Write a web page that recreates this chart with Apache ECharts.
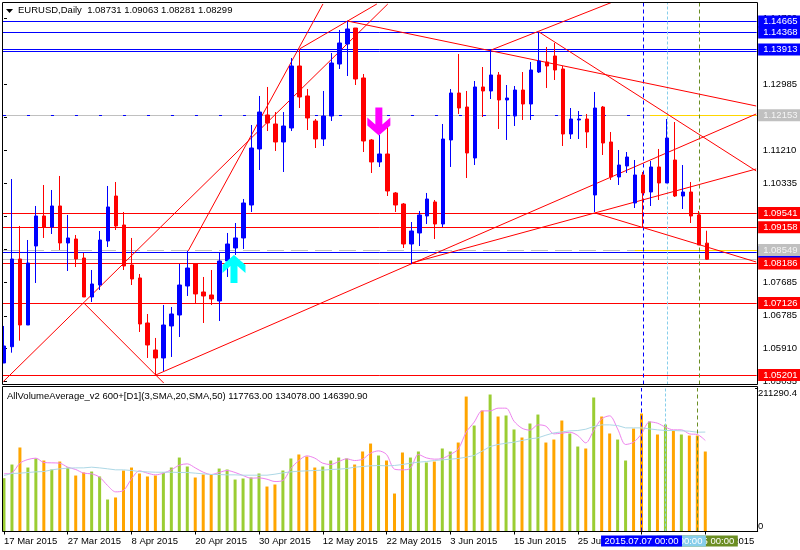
<!DOCTYPE html>
<html><head><meta charset="utf-8"><title>EURUSD Daily</title>
<style>html,body{margin:0;padding:0;background:#fff}#c{width:800px;height:550px}</style>
<script src="https://cdn.jsdelivr.net/npm/echarts@6/dist/echarts.min.js"></script>
</head><body><div id="c"></div>
<script>
const opens=[1.05522,1.05958,1.08306,1.06539,1.08654,1.09458,1.09163,1.09726,1.08735,1.08842,1.08333,1.07289,1.07610,1.08788,1.09993,1.09217,1.08146,1.07798,1.06593,1.05870,1.05656,1.06513,1.06807,1.07583,1.08173,1.07423,1.07343,1.07182,1.08253,1.08601,1.08869,1.09752,1.11252,1.12162,1.11921,1.11439,1.11814,1.13474,1.12671,1.12001,1.11519,1.12135,1.13527,1.14063,1.14491,1.13153,1.11493,1.10904,1.11118,1.10074,1.09779,1.08708,1.09003,1.09458,1.09833,1.09243,1.11493,1.12751,1.12376,1.11011,1.12912,1.12805,1.13233,1.12564,1.12135,1.12831,1.12456,1.13313,1.13581,1.13742,1.13394,1.11653,1.12028,1.12055,1.10020,1.12376,1.11439,1.10502,1.10796,1.09806,1.10556,1.10100,1.10770,1.10341,1.10957,1.09993,1.10100,1.09485,1.08731];
const closes=[1.05977,1.08306,1.06539,1.08199,1.09458,1.09163,1.09726,1.08735,1.08869,1.08306,1.07289,1.07637,1.08815,1.09699,1.09190,1.08119,1.07771,1.06566,1.06004,1.05656,1.06539,1.06834,1.07610,1.08065,1.07370,1.07316,1.07236,1.08253,1.08708,1.08869,1.09806,1.11278,1.12242,1.11948,1.11439,1.11867,1.13474,1.12644,1.12082,1.11519,1.12135,1.13554,1.14090,1.14465,1.13126,1.11466,1.10904,1.11118,1.10127,1.09752,1.08708,1.09056,1.09485,1.09913,1.09243,1.11519,1.12751,1.12349,1.11144,1.12912,1.12805,1.13233,1.12564,1.12617,1.12831,1.12456,1.13367,1.13608,1.13474,1.13367,1.11653,1.12055,1.12055,1.11707,1.12349,1.11412,1.10502,1.10823,1.11037,1.10556,1.10074,1.10770,1.10341,1.11546,1.09993,1.10100,1.09458,1.08681,1.08299];
const lows=[1.05522,1.05798,1.06119,1.06539,1.07664,1.08869,1.08976,1.08547,1.07985,1.08092,1.07289,1.07155,1.07476,1.08628,1.09083,1.08012,1.07610,1.06352,1.05656,1.05201,1.05308,1.05683,1.06218,1.07316,1.07128,1.06593,1.07075,1.06647,1.07825,1.08414,1.08574,1.09565,1.10689,1.11733,1.11198,1.10636,1.11733,1.12349,1.11760,1.11278,1.11332,1.12001,1.13394,1.13206,1.12965,1.11171,1.10609,1.10770,1.09993,1.09565,1.08601,1.08173,1.08654,1.09243,1.08842,1.09163,1.10770,1.12189,1.10475,1.10823,1.12108,1.12590,1.11787,1.11493,1.11867,1.12028,1.12028,1.13286,1.12885,1.13099,1.11332,1.11519,1.11519,1.11278,1.09565,1.11091,1.10422,1.10288,1.10609,1.09672,1.09136,1.09726,1.09886,1.10341,1.09966,1.09645,1.09270,1.08681,1.08281];
const highs=[1.06513,1.10448,1.09190,1.08815,1.09726,1.10288,1.10154,1.10529,1.09485,1.08949,1.08467,1.08012,1.09056,1.10261,1.10368,1.09565,1.08869,1.07905,1.06834,1.06192,1.07075,1.07021,1.08173,1.08521,1.08173,1.07825,1.08012,1.08494,1.09003,1.09270,1.09913,1.11894,1.12671,1.12912,1.12242,1.12242,1.13688,1.13929,1.12858,1.12055,1.12805,1.13822,1.14438,1.14679,1.14491,1.13260,1.11519,1.11626,1.11867,1.10100,1.09806,1.09297,1.09592,1.10074,1.09886,1.11921,1.12858,1.13795,1.12805,1.13072,1.13447,1.13902,1.13313,1.12965,1.12938,1.13313,1.13581,1.14384,1.13983,1.14090,1.13474,1.12349,1.12269,1.12189,1.12778,1.12403,1.11707,1.11225,1.11171,1.10957,1.10636,1.10930,1.11252,1.12055,1.11974,1.10823,1.10368,1.09592,1.09063];
const volumes=[78500,98600,123700,94200,107500,104500,91300,103000,94200,82400,86900,88300,81000,47100,50100,89800,94200,85400,81000,82400,86900,94200,108900,95700,79500,83900,83900,92700,91300,76500,78000,79500,85400,66200,69200,89800,107500,113400,110400,94200,95700,104500,108900,107500,98600,117800,129500,111900,104500,55900,116300,108900,117800,101600,103000,122200,117800,131000,198700,156000,178100,201700,169300,170800,150200,138400,159000,172200,131000,135400,163400,144300,125100,122200,197300,169300,144300,135400,104500,151600,173700,161900,142800,157500,148700,142800,141300,141300,117763];
const volumeRising=[1,1,0,1,1,0,1,0,1,0,0,1,1,1,0,0,0,0,0,0,1,1,1,1,0,0,0,1,1,1,1,1,1,0,0,1,1,0,0,0,1,1,1,1,0,0,0,1,0,0,0,1,1,1,0,1,1,0,0,1,0,1,0,1,1,0,1,1,0,0,0,1,1,0,1,0,0,1,1,0,0,1,0,1,0,1,0,0,0];
const fastAverage=[84900,86400,100600,106000,108000,101600,101100,100600,94700,91300,85900,84900,80000,67700,58400,60400,77500,89300,85900,83400,85900,90800,97600,99600,93700,87300,83900,86900,89800,86900,82400,78500,79000,77000,73600,75100,92700,104500,111400,108000,100600,98600,103000,107000,104500,106500,115300,118700,113400,91800,90800,93200,113400,108400,106500,107500,113400,121200,146200,161000,177600,177600,181600,181600,162400,152100,149200,157000,155100,143800,144800,146200,141300,130500,148700,165900,170300,151100,128100,131500,143800,161400,159500,153600,149700,149700,143800,142800,134078];
const slowAverage=[82400,85400,85900,86900,87800,88300,90800,92300,93200,93700,93700,94700,93700,92300,90800,90800,89800,88300,87800,87300,87300,87300,86900,86900,85900,84900,83900,83900,83400,83400,82900,82900,82900,82900,84400,86400,87800,88800,89300,89800,90300,91300,91800,92700,94700,95700,96700,97200,96700,97200,98600,100600,102100,103000,104500,105500,106500,107500,109400,111900,118300,125100,128100,130000,131500,134000,136400,137900,141800,145200,146700,148200,148700,150600,154600,157000,157000,156000,152600,152600,152600,151100,149700,148700,148700,148200,147700,146200,146391];

const dateTickIndex=[0,8,16,24,32,40,48,56,64,72,80,88];
const dateTickLabels=['17 Mar 2015','27 Mar 2015','8 Apr 2015','20 Apr 2015','30 Apr 2015','12 May 2015','22 May 2015','3 Jun 2015','15 Jun 2015','25 Jun 2015','7 Jul 2015','17 Jul 2015'];
const priceTicks=[1.14760,1.13873,1.12985,1.12098,1.11210,1.10335,1.09460,1.08560,1.07685,1.06785,1.05910,1.05035];
const volumeMax=211290.4;

const blueLevels=[1.14665,1.14368,1.13913];
const blueUnlabelled=[1.13862];
const blueHiddenTag=[1.08486];
const redLevels=[1.09541,1.09158,1.08186,1.07126,1.05201];
const greyLevels=[1.12153,1.08549];
const bidLevel=[1.08299];
const trendLines=[
 [[-0.1,1.05021],[48.06,1.15134]],
 [[23.06,1.08521],[39.94,1.15134]],
 [[10,1.07128],[20,1.04986]],
 [[19,1.05201],[94.19,1.12189]],
 [[51,1.08199],[94.19,1.10716]],
 [[74,1.09538],[94.19,1.08226]],
 [[43,1.14679],[94.19,1.12403]],
 [[67,1.14384],[94.19,1.10663]],
 [[37,1.13929],[46.69,1.15134]],
 [[61,1.13902],[76.06,1.15174]]
];
const goldStarts=[80.9,79];
const upArrow=[[28.8,1.08039]];
const downArrow=[[46.94,1.11988]];
const verticals=[{i:87,t:'2015.07.15 00:00',c:'#6b8e23',d:[4,3]},{i:83,t:'2015.07.10 00:00',c:'#87ceeb',d:[3,2]},{i:80,t:'2015.07.07 00:00',c:'#0000ff',d:[4,3]}];

const F='"Liberation Sans",Arial,sans-serif', FS=9.5;
const XL=-0.125, XR=94.25;
const barCount=95;
const categories=Array.from({length:barCount},(_, i)=>{const k=dateTickIndex.indexOf(i);return k<0?String(i):dateTickLabels[k];});
const onDateTick=i=>dateTickIndex.indexOf(i)>=0;

const tag=(txt,bg,fg)=>({show:true,formatter:txt,position:'end',distance:1.5,color:fg||'#fff',backgroundColor:bg,
  padding:[1,40,1,5],fontSize:FS,fontFamily:F,lineHeight:10,align:'left'});
const seg=(v,c,type,label,from)=>[{coord:[from===undefined?XL:from,v],lineStyle:{color:c,width:1,type:type||'solid'},label:label||{show:false}},{coord:[XR,v]}];

const levelData=[
 seg(bidLevel[0],'#c0c0c0'),
 seg(blueHiddenTag[0],'#0000ff','solid',tag(blueHiddenTag[0].toFixed(5),'#0000ff')),
 seg(greyLevels[0],'#c0c0c0','solid',tag(greyLevels[0].toFixed(5),'#c0c0c0','#f4f4f4')),
 seg(greyLevels[0],'#0000ff',[3,21]),
 seg(greyLevels[1],'#c0c0c0',[17,7],tag(greyLevels[1].toFixed(5),'#c0c0c0','#f4f4f4')),
 seg(greyLevels[0],'#ffd700','solid',null,goldStarts[0]),
 seg(greyLevels[1],'#ffd700','solid',null,goldStarts[1]),
 seg(blueUnlabelled[0],'#0000ff')
].concat(blueLevels.map(v=>seg(v,'#0000ff','solid',tag(v.toFixed(5),'#0000ff'))))
 .concat(redLevels.map(v=>seg(v,'#ff0000','solid',tag(v.toFixed(5),'#ff0000'))));

const vLine=(v,withLabel)=>({xAxis:v.i,lineStyle:{color:v.c,width:1,type:v.d},
  label:withLabel?{show:true,formatter:v.t,position:'start',distance:4,color:'#fff',backgroundColor:v.c,padding:[1,3.5,1,3.5],fontSize:FS,fontFamily:F,lineHeight:9}:{show:false}});

const breakUp=list=>{const a=[];list.forEach(s=>{a.push(s[0],s[1],[null,null]);});return a;};
const ARROW='path://M11.5 0L23 10L23 18L15 11L15 28L8 28L8 11L0 18L0 10Z';
const ARROWD='path://M8 0L15 0L15 17L23 10L23 18L11.5 28L0 18L0 10L8 17Z';

const chart=echarts.init(document.getElementById('c'),null,{renderer:'canvas'});
chart.setOption({
 animation:false,backgroundColor:'#fff',
 title:[
  {text:'EURUSD,Daily  1.08731 1.09063 1.08281 1.08299',left:18,top:5,padding:0,textStyle:{fontSize:FS,fontWeight:'normal',fontFamily:F,color:'#000'}},
  {text:'AllVolumeAverage_v2 600+[D1](3,SMA,20,SMA,50) 117763.00 134078.00 146390.90',left:7,top:391,padding:0,textStyle:{fontSize:FS,fontWeight:'normal',fontFamily:F,color:'#000'}}
 ],
 graphic:[
  {type:'rect',silent:true,z:90,shape:{x:0,y:0,width:2,height:550},style:{fill:'#fff'}},
  {type:'polygon',silent:true,z:91,shape:{points:[[6,9],[13,9],[9.5,13]]},style:{fill:'#000'}},
  {type:'rect',silent:true,z:91,shape:{x:2.5,y:2.5,width:755,height:382},style:{fill:'none',stroke:'#000',lineWidth:1}},
  {type:'rect',silent:true,z:91,shape:{x:2.5,y:386.5,width:755,height:145},style:{fill:'none',stroke:'#000',lineWidth:1}}
 ],
 grid:[
  {left:-0.5,top:2.5,width:760,height:382},
  {left:-0.5,top:388,width:760,height:143.5}
 ],
 xAxis:[
  {type:'category',gridIndex:0,data:categories,show:false},
  {type:'value',gridIndex:0,min:-0.5,max:94.5,show:false,splitLine:{show:false}},
  {type:'category',gridIndex:1,data:categories,position:'bottom',
   axisLine:{show:false},
   axisTick:{show:true,length:3,alignWithLabel:true,interval:onDateTick,lineStyle:{color:'#000'}},
   axisLabel:{show:true,interval:onDateTick,align:'left',margin:5,color:'#000',fontSize:FS,fontFamily:F}}
 ],
 yAxis:[
  {type:'value',gridIndex:0,position:'right',offset:-2,min:1.04946,max:1.15174,scale:true,splitLine:{show:false},
   axisLine:{show:false},
   axisTick:{show:true,length:3,lineStyle:{color:'#000'},customValues:priceTicks},
   axisLabel:{customValues:priceTicks,margin:6,color:'#000',fontSize:FS,fontFamily:F,formatter:v=>v.toFixed(5)}},
  {type:'value',gridIndex:1,position:'right',offset:-2,min:0,max:volumeMax,splitLine:{show:false},
   axisLine:{show:false},
   axisTick:{show:true,length:3,lineStyle:{color:'#000'},customValues:[0,volumeMax]},
   axisLabel:{customValues:[0,volumeMax],margin:3,color:'#000',fontSize:FS,fontFamily:F,
     verticalAlignMinLabel:'bottom',verticalAlignMaxLabel:'top',formatter:v=>v===0?'0':'211290.4'}}
 ],
 series:[
  {name:'levels',type:'line',xAxisIndex:1,yAxisIndex:0,data:[],z:2,silent:true,
   markLine:{silent:true,symbol:'none',animation:false,precision:5,z:2,data:levelData.concat(verticals.map(v=>vLine(v,false)))}},
  {name:'trend',type:'line',xAxisIndex:1,yAxisIndex:0,z:3,silent:true,showSymbol:false,connectNulls:false,
   lineStyle:{color:'#ff0000',width:1},data:breakUp(trendLines)},
  {name:'EURUSD',type:'candlestick',xAxisIndex:0,yAxisIndex:0,z:4,barWidth:4,silent:true,
   itemStyle:{color:'#0000ff',color0:'#ff0000',borderColor:'#0000ff',borderColor0:'#ff0000',borderWidth:1},
   data:opens.map((o,i)=>[o,closes[i],lows[i],highs[i]])},
  {name:'up',type:'scatter',xAxisIndex:1,yAxisIndex:0,z:5,silent:true,symbol:ARROW,symbolSize:[23,28],
   itemStyle:{color:'#00ffff',opacity:1},data:upArrow},
  {name:'down',type:'scatter',xAxisIndex:1,yAxisIndex:0,z:5,silent:true,symbol:ARROWD,symbolSize:[23,28],
   itemStyle:{color:'#ff00ff',opacity:1},data:downArrow},
  {name:'volume',type:'bar',xAxisIndex:2,yAxisIndex:1,barWidth:3,z:2,silent:true,
   data:volumes.map((v,i)=>({value:v,itemStyle:{color:volumeRising[i]?'#9acd32':'#ffa500'}})),
   markLine:{silent:true,symbol:'none',animation:false,z:8,data:verticals.map(v=>vLine(v,true))}},
  {name:'fast',type:'line',xAxisIndex:2,yAxisIndex:1,z:3,silent:true,showSymbol:false,smooth:0.3,
   lineStyle:{color:'#ee82ee',width:1},data:fastAverage},
  {name:'slow',type:'line',xAxisIndex:2,yAxisIndex:1,z:3,silent:true,showSymbol:false,
   lineStyle:{color:'#add8e6',width:1},data:slowAverage}
 ]
});
</script></body></html>
